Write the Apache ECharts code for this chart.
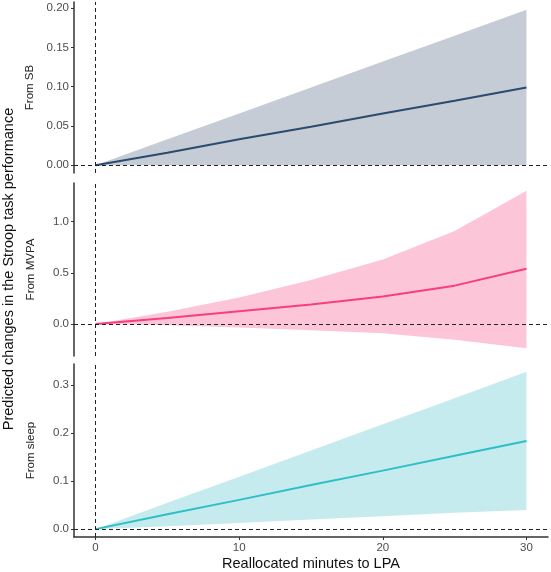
<!DOCTYPE html>
<html>
<head>
<meta charset="utf-8">
<script src="https://cdn.jsdelivr.net/npm/echarts@6/dist/echarts.min.js"></script>
<style>html,body{margin:0;padding:0;background:#fff}#c{width:551px;height:572px}</style>
</head>
<body>
<div id="c"></div>
<script>
// ---- data ----
const minutes = [0, 5, 10, 15, 20, 25, 30];
const panelNames = ['From SB', 'From MVPA', 'From sleep'];

const sbEst   = [0, 0.016, 0.033, 0.049, 0.066, 0.082, 0.099];
const sbUpper = [0, 0.033, 0.066, 0.099, 0.132, 0.165, 0.198];
const sbLower = [0, 0, 0, 0, 0, 0, 0];

const mvpaEst   = [0, 0.058, 0.124, 0.19, 0.27, 0.375, 0.539];
const mvpaUpper = [0, 0.12, 0.26, 0.43, 0.63, 0.908, 1.30];
const mvpaLower = [0, -0.012, -0.033, -0.06, -0.09, -0.154, -0.235];

const sleepEst   = [0, 0.031, 0.061, 0.092, 0.122, 0.153, 0.184];
const sleepUpper = [0, 0.055, 0.109, 0.164, 0.219, 0.273, 0.328];
const sleepLower = [0, 0.006, 0.013, 0.02, 0.027, 0.034, 0.04];

const xTicks = [0, 10, 20, 30];
const sbTicks = [0, 0.05, 0.10, 0.15, 0.20];
const mvpaTicks = [0, 0.5, 1.0];
const sleepTicks = [0, 0.1, 0.2, 0.3];

const xTitle = 'Reallocated minutes to LPA';
const yTitle = 'Predicted changes in the Stroop task performance';

// ---- build ----
const panels = [
  {est: sbEst, up: sbUpper, lo: sbLower, ticks: sbTicks, dec: 2, line: '#2b4a6f', fill: '#c5ccd5'},
  {est: mvpaEst, up: mvpaUpper, lo: mvpaLower, ticks: mvpaTicks, dec: 1, line: '#f73e7e', fill: '#fdc6d8'},
  {est: sleepEst, up: sleepUpper, lo: sleepLower, ticks: sleepTicks, dec: 1, line: '#2ebfc6', fill: '#c6ebee'}
];
const gridTops = [2, 183, 364];
const gridHeights = [171, 173, 174];

const axisColor = '#333';
const labelColor = '#4d4d4d';
const font = 'Liberation Sans, Arial, sans-serif';

const grids = [], xAxes = [], yAxes = [], series = [];
panels.forEach((p, i) => {
  grids.push({left: 74, right: 3, top: gridTops[i], height: gridHeights[i]});
  const isBottom = i === panels.length - 1;
  xAxes.push({
    type: 'value', gridIndex: i, min: -1.5, max: 31.5,
    splitLine: {show: false},
    axisLine: {show: isBottom, onZero: false, lineStyle: {color: axisColor, width: 1.5}},
    axisTick: {show: isBottom, length: 3, customValues: xTicks, lineStyle: {color: axisColor, width: 1}},
    axisLabel: {show: isBottom, customValues: xTicks, color: labelColor, fontSize: 11.5, fontFamily: font, margin: 5},
    name: isBottom ? xTitle : '', nameLocation: 'middle', nameGap: 19,
    nameTextStyle: {color: '#111', fontSize: 14.5, fontFamily: font}
  });
  const lo = Math.min(...p.lo), hi = Math.max(...p.up);
  const pad = (hi - lo) * 0.05;
  yAxes.push({
    type: 'value', gridIndex: i, min: lo - pad, max: hi + pad,
    splitLine: {show: false},
    axisLine: {show: true, onZero: false, lineStyle: {color: axisColor, width: 1.5}},
    axisTick: {show: true, length: 3, customValues: p.ticks, lineStyle: {color: axisColor, width: 1}},
    axisLabel: {customValues: p.ticks, color: labelColor, fontSize: 11.5, fontFamily: font, margin: 5,
      formatter: v => Number(v).toFixed(p.dec)},
    name: panelNames[i], nameLocation: 'middle', nameGap: 37,
    nameTextStyle: {color: '#222', fontSize: 11.5, fontFamily: font}
  });
  // confidence band: polygon through upper then reversed lower, placed via the axes
  series.push({
    type: 'custom', xAxisIndex: i, yAxisIndex: i, silent: true, z: 1,
    data: [[minutes[0], p.lo[0]], [minutes[minutes.length - 1], p.up[p.up.length - 1]]],
    encode: {x: 0, y: 1},
    renderItem: (params, api) => {
      if (params.dataIndex !== 0) return null;
      const pts = [];
      minutes.forEach((m, k) => pts.push(api.coord([m, p.up[k]])));
      for (let k = minutes.length - 1; k >= 0; k--) pts.push(api.coord([minutes[k], p.lo[k]]));
      return {type: 'polygon', shape: {points: pts}, style: {fill: p.fill}};
    }
  });
  series.push({
    type: 'line', xAxisIndex: i, yAxisIndex: i,
    data: minutes.map((m, k) => [m, p.est[k]]), symbol: 'none', silent: true,
    lineStyle: {color: p.line, width: 2}, z: 3,
    markLine: {
      silent: true, symbol: 'none', label: {show: false},
      lineStyle: {color: '#222', width: 1, type: [4, 3]},
      animation: false,
      data: [{yAxis: 0}, {xAxis: 0}]
    }
  });
});

const chart = echarts.init(document.getElementById('c'), null, {renderer: 'canvas'});
chart.setOption({
  animation: false,
  backgroundColor: '#fff',
  grid: grids, xAxis: xAxes, yAxis: yAxes, series: series,
  graphic: [{
    type: 'text', x: 9, y: 269, rotation: Math.PI / 2,
    style: {text: yTitle, fill: '#111', fontSize: 14.5, fontFamily: font, align: 'center', verticalAlign: 'middle'}
  }]
});
</script>
</body>
</html>
